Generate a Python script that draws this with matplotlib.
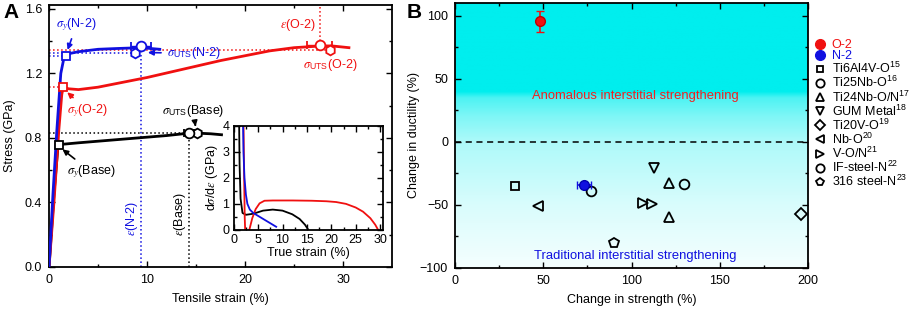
import matplotlib
matplotlib.use('Agg')
import matplotlib.pyplot as plt
from matplotlib.lines import Line2D
import numpy as np

plt.rcParams['font.family'] = ['Liberation Sans', 'DejaVu Sans']
plt.rcParams['mathtext.fontset'] = 'custom'
plt.rcParams['mathtext.rm'] = 'Liberation Sans'
plt.rcParams['mathtext.sf'] = 'Liberation Sans'
plt.rcParams['mathtext.it'] = 'STIXGeneral:italic'
plt.rcParams['font.size'] = 9

# ---------------- panel A: stress-strain curves ----------------
n2_strain = [0, 0.4, 0.8, 1.2, 1.5, 1.7, 2.2, 3, 5, 7, 9.4, 11.3]
n2_stress = [0, 0.45, 0.85, 1.2, 1.29, 1.31, 1.325, 1.335, 1.35, 1.355, 1.36, 1.35]
o2_strain = [0, 0.5, 1.0, 1.3, 1.45, 2, 3, 5, 7.5, 10, 12.5, 15, 17.5, 20, 22.5, 25, 27.6, 29, 30.6]
o2_stress = [0, 0.4, 0.85, 1.07, 1.115, 1.105, 1.10, 1.115, 1.145, 1.175, 1.21, 1.245, 1.28,
             1.31, 1.34, 1.36, 1.37, 1.37, 1.36]
base_strain = [0, 0.5, 0.9, 1.2, 3, 6, 9, 12, 14.3, 15.1, 16.5, 17.6]
base_stress = [0, 0.45, 0.74, 0.76, 0.77, 0.785, 0.80, 0.815, 0.83, 0.83, 0.826, 0.82]

# yield points, UTS points (with strain scatter) and second UTS markers
yield_pts = {'N-2': (1.7, 1.31), 'O-2': (1.45, 1.115), 'Base': (1.0, 0.757)}
uts_pts = {'N-2': (9.4, 1.37, 1.0), 'O-2': (27.6, 1.375, 1.3), 'Base': (14.3, 0.83, 0.5)}
uts2_pts = {'N-2': (8.8, 1.33), 'O-2': (28.7, 1.345), 'Base': (15.1, 0.83)}
colors = {'N-2': '#1010e0', 'O-2': '#f01010', 'Base': 'black'}

# inset: work hardening rate
ins_n2_x = [1.9, 2.0, 2.2, 2.5, 2.8, 3.3, 4.0, 8.7]
ins_n2_y = [4.2, 3.0, 2.0, 1.35, 1.0, 0.78, 0.65, 0.12]
ins_base_x = [1.1, 1.2, 1.4, 1.8, 2.5, 4.0, 6, 8, 10, 12, 13.5, 14.6, 15.3]
ins_base_y = [4.2, 2.5, 1.2, 0.65, 0.58, 0.62, 0.74, 0.78, 0.74, 0.6, 0.42, 0.2, 0.0]
ins_o2_x = [2.0, 2.1, 2.25, 2.4, 2.8, 3.2, 3.8, 4.5, 5.3, 6.3, 8, 12, 16, 19, 21, 23, 25,
            26.5, 28, 29, 29.6]
ins_o2_y = [4.2, 2.5, 0.5, -0.3, -0.3, 0.0, 0.45, 0.8, 1.02, 1.12, 1.13, 1.13, 1.12, 1.1,
            1.07, 1.0, 0.86, 0.7, 0.45, 0.2, 0.0]

# ---------------- panel B: ductility vs strength ----------------
o2_b = (48.2, 95.5, 8.5)   # x, y, yerr
n2_b = (73.0, -34.4, 4.0)  # x, y, xerr
lit_names = [r'Ti6Al4V-O$^{\rm 15}$', r'Ti25Nb-O$^{\rm 16}$', r'Ti24Nb-O/N$^{\rm 17}$',
             r'GUM Metal$^{\rm 18}$', r'Ti20V-O$^{\rm 19}$', r'Nb-O$^{\rm 20}$',
             r'V-O/N$^{\rm 21}$', r'IF-steel-N$^{\rm 22}$', r'316 steel-N$^{\rm 23}$']
lit_markers = ['s', 'o', '^', 'v', 'D', '<', '>', 'o', 'p']
lit_x = [[34.2], [77], [121.2, 121.2], [113], [195.8], [47.2], [106.6, 111.8], [130], [90.3]]
lit_y = [[-35], [-39], [-32.5, -60], [-20.7], [-57.6], [-50.7], [-48.9, -49.6], [-33.4], [-80]]

fig = plt.figure(figsize=(9.13, 3.09), dpi=100)
axA = fig.add_axes([0.0537, 0.136, 0.3757, 0.848])
axB = fig.add_axes([0.4984, 0.133, 0.3866, 0.857])
axI = fig.add_axes([0.256, 0.256, 0.163, 0.337])

# dotted guide lines
dot = dict(ls=':', lw=1.1, zorder=1)
axA.plot([0, 28.7], [1.345, 1.345], color=colors['O-2'], **dot)
axA.plot([0, 8.8], [1.33, 1.33], color=colors['N-2'], **dot)
axA.plot([0, 1.7], [1.31, 1.31], color=colors['N-2'], **dot)
axA.plot([0, 1.45], [1.115, 1.115], color=colors['O-2'], **dot)
axA.plot([0, 14.3], [0.83, 0.83], color='black', **dot)
axA.plot([9.4, 9.4], [0, 1.37], color=colors['N-2'], **dot)
axA.plot([14.3, 14.3], [0, 0.83], color='black', **dot)
axA.plot([27.6, 27.6], [1.375, 1.65], color=colors['O-2'], **dot)

axA.plot(base_strain, base_stress, color='black', lw=2, zorder=2)
axA.plot(o2_strain, o2_stress, color=colors['O-2'], lw=2, zorder=2)
axA.plot(n2_strain, n2_stress, color=colors['N-2'], lw=2, zorder=3)

for k in ['Base', 'O-2', 'N-2']:
    c = colors[k]
    axA.plot(*yield_pts[k], marker='s', ms=6, mfc='white', mec=c, mew=1.3, zorder=5)
    x, y, e = uts_pts[k]
    axA.errorbar(x, y, xerr=e, fmt='o', ms=7, mfc='white', mec=c, mew=1.3, ecolor=c,
                 elinewidth=1, capsize=3, zorder=5)
    axA.plot(*uts2_pts[k], marker='h', ms=7, mfc='white', mec=c, mew=1.3, zorder=5)

arr = lambda c: dict(arrowstyle='-|>', color=c, lw=1.2, mutation_scale=8)
fs = 9
axA.annotate(r'$\sigma_y$(N-2)', xy=(1.8, 1.33), xytext=(2.8, 1.50), ha='center',
             va='center', color=colors['N-2'], fontsize=fs, arrowprops=arr(colors['N-2']))
axA.annotate(r'$\sigma_{\rm UTS}$(N-2)', xy=(9.8, 1.33), xytext=(12.0, 1.325), ha='left',
             va='center', color=colors['N-2'], fontsize=fs, arrowprops=arr(colors['N-2']))
axA.text(27.2, 1.50, r'$\varepsilon$(O-2)', ha='right', va='center', color=colors['O-2'],
         fontsize=fs)
axA.text(28.7, 1.25, r'$\sigma_{\rm UTS}$(O-2)', ha='center', va='center',
         color=colors['O-2'], fontsize=fs)
axA.annotate(r'$\sigma_y$(O-2)', xy=(1.65, 1.095), xytext=(3.9, 0.97), ha='center',
             va='center', color=colors['O-2'], fontsize=fs, arrowprops=arr(colors['O-2']))
axA.annotate(r'$\sigma_{\rm UTS}$(Base)', xy=(15.0, 0.855), xytext=(14.7, 0.965),
             ha='center', va='center', color='black', fontsize=fs, arrowprops=arr('black'))
axA.annotate(r'$\sigma_y$(Base)', xy=(1.15, 0.74), xytext=(4.3, 0.59), ha='center',
             va='center', color='black', fontsize=fs, arrowprops=arr('black'))
axA.text(8.5, 0.30, r'$\varepsilon$(N-2)', rotation=90, ha='center', va='center',
         color=colors['N-2'], fontsize=fs)
axA.text(13.4, 0.33, r'$\varepsilon$(Base)', rotation=90, ha='center', va='center',
         color='black', fontsize=fs)

axA.set_xlim(0, 35)
axA.set_ylim(0, 1.625)
axA.set_xticks([0, 10, 20, 30])
axA.set_xticks([5, 15, 25], minor=True)
axA.set_yticks([0, 0.4, 0.8, 1.2, 1.6])
axA.set_yticks([0.2, 0.6, 1.0, 1.4], minor=True)
axA.set_yticklabels(['0.0', '0.4', '0.8', '1.2', '1.6'])
axA.set_xlabel('Tensile strain (%)', labelpad=5)
axA.set_ylabel('Stress (GPa)', labelpad=6)

# inset
axI.plot(ins_base_x, ins_base_y, color='black', lw=1.3)
axI.plot(ins_o2_x, ins_o2_y, color=colors['O-2'], lw=1.3)
axI.plot(ins_n2_x, ins_n2_y, color=colors['N-2'], lw=1.3)
axI.set_xlim(0, 30.5)
axI.set_ylim(0, 4)
axI.set_xticks([0, 5, 10, 15, 20, 25, 30])
axI.set_yticks([0, 1, 2, 3, 4])
axI.set_xticks(np.arange(2.5, 30, 5), minor=True)
axI.set_yticks([0.5, 1.5, 2.5, 3.5], minor=True)
axI.set_xlabel('True strain (%)', labelpad=1)
axI.set_ylabel(r'd$\sigma$/d$\varepsilon$ (GPa)', labelpad=2)

# panel B background gradient
gy = np.linspace(110, -100, 400)
white = np.interp(gy, [-100, -50, 0, 20, 35, 40, 110], [0.96, 0.85, 0.68, 0.5, 0.3, 0, 0])
cyan = np.array([0, 238, 238]) / 255
img = cyan[None, :] * (1 - white[:, None]) + white[:, None]
axB.imshow(img[:, None, :], extent=[0, 200, -100, 110], aspect='auto', zorder=0)
axB.axhline(0, color='black', ls='--', lw=1.1, dashes=(4, 3), zorder=1)

axB.errorbar(o2_b[0], o2_b[1], yerr=o2_b[2], fmt='o', ms=7, color='#f01010',
             mec='#c00000', capsize=3, elinewidth=1.2, zorder=4)
axB.errorbar(n2_b[0], n2_b[1], xerr=n2_b[2], fmt='o', ms=7, color='#1010e0',
             mec='#0000b0', capsize=3, elinewidth=1.2, zorder=4)
handles = [Line2D([], [], marker='o', ls='', ms=7, color='#f01010'),
           Line2D([], [], marker='o', ls='', ms=7, color='#1010e0')]
for name, m, xs, ys in zip(lit_names, lit_markers, lit_x, lit_y):
    ms = 6 if m in ('D', 's') else 7
    axB.plot(xs, ys, ls='', marker=m, ms=ms, mfc='none', mec='black', mew=1.3, zorder=3)
    handles.append(Line2D([], [], marker=m, ls='', ms=ms - 1, mfc='none', mec='black',
                          mew=1.3))

axB.text(102, 36, 'Anomalous interstitial strengthening', color='#f02020', ha='center',
         va='center', fontsize=9.4)
axB.text(102, -90.5, 'Traditional interstitial strengthening', color='#1010e0',
         ha='center', va='center', fontsize=9.4)

axB.set_xlim(0, 200)
axB.set_ylim(-100, 110)
axB.set_xticks([0, 50, 100, 150, 200])
axB.set_xticks([25, 75, 125, 175], minor=True)
axB.set_yticks([-100, -50, 0, 50, 100])
axB.set_yticks([-75, -25, 25, 75], minor=True)
axB.set_xlabel('Change in strength (%)', labelpad=5)
axB.set_ylabel('Change in ductility (%)', labelpad=0)

leg = fig.legend(handles, ['O-2', 'N-2'] + lit_names, loc='upper left',
                 bbox_to_anchor=(0.893, 0.873), frameon=False, fontsize=9,
                 handlelength=0.8, handletextpad=0.5, labelspacing=-0.08,
                 borderpad=0, borderaxespad=0)
leg.get_texts()[0].set_color('#f01010')
leg.get_texts()[1].set_color('#1010e0')

for ax in (axA, axB, axI):
    ax.tick_params(which='both', direction='in', top=True, right=True, width=1)
    ax.tick_params(which='major', length=4, labelsize=9, pad=5)
    ax.tick_params(which='minor', length=2.5)
    for s in ax.spines.values():
        s.set_linewidth(1.3)
axI.tick_params(which='major', pad=3)

fig.text(0.004, 0.99, 'A', fontsize=15, fontweight='bold', va='top')
fig.text(0.445, 0.99, 'B', fontsize=15, fontweight='bold', va='top', ha='left')

fig.savefig('out.png', dpi=100)
